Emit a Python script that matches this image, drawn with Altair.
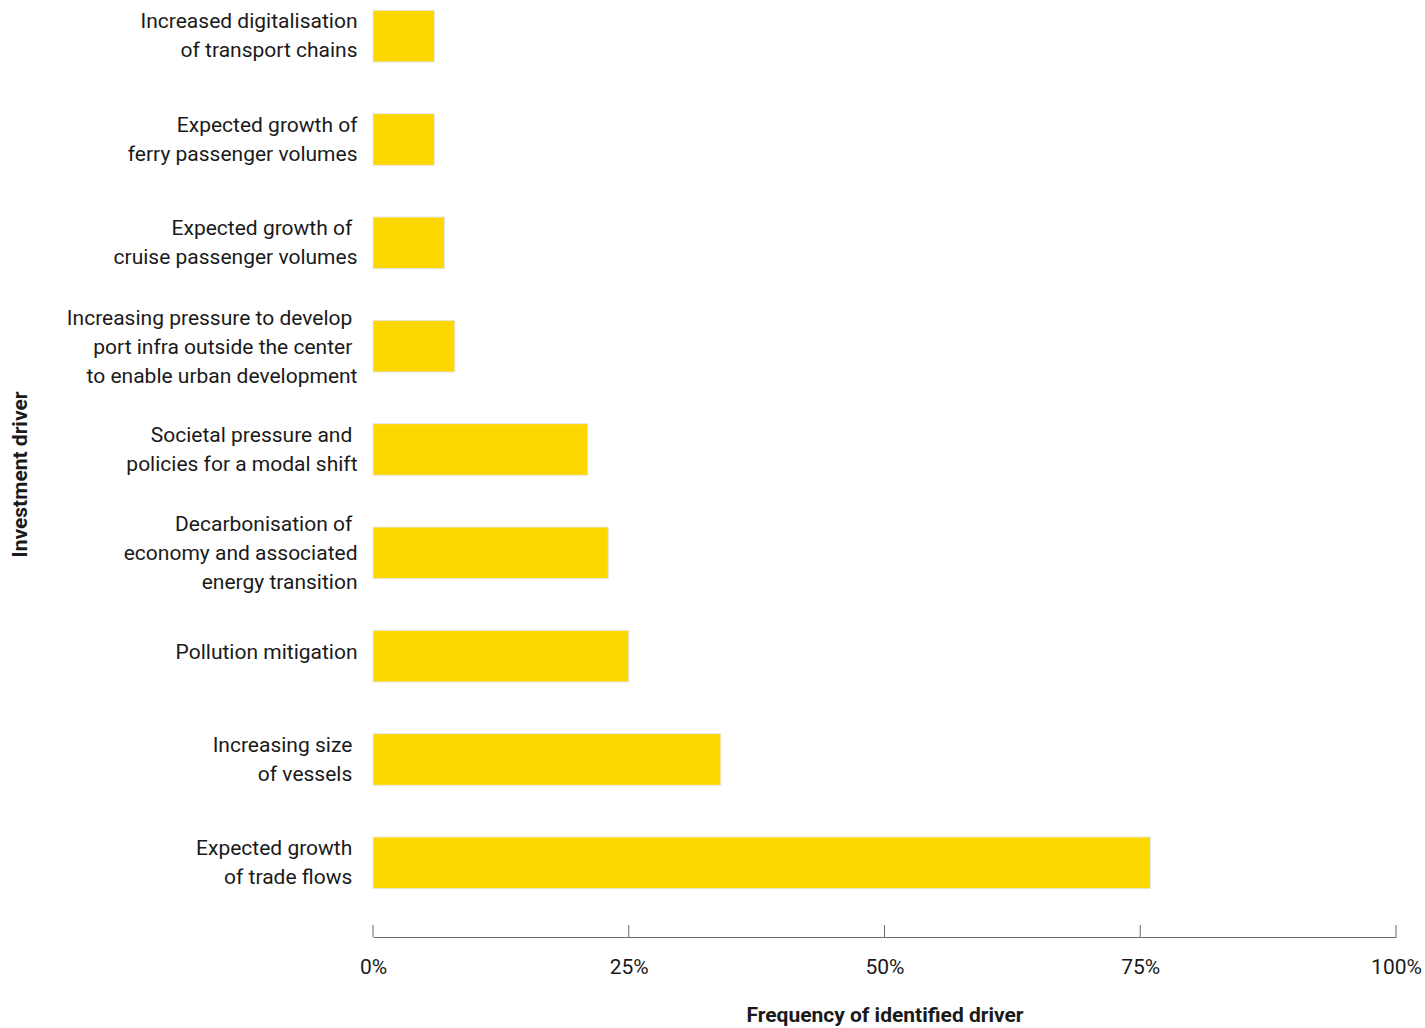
import altair as alt
import pandas as pd

SP = "\u00a0\u200b"  # trailing visible space kept by the renderer
labels = [
    "Increased digitalisation\nof transport chains",
    "Expected growth of\nferry passenger volumes",
    "Expected growth of" + SP + "\ncruise passenger volumes",
    "Increasing pressure to develop" + SP + "\nport infra outside the center" + SP + "\nto enable urban development",
    "Societal pressure and" + SP + "\npolicies for a modal shift",
    "Decarbonisation of" + SP + "\neconomy and associated\nenergy transition",
    "Pollution mitigation",
    "Increasing size" + SP + "\nof vessels" + SP,
    "Expected growth" + SP + "\nof trade flows" + SP,
]
values = [6, 6, 7, 8, 21, 23, 25, 34, 76]
tick_values = [0, 25, 50, 75, 100]

df = pd.DataFrame({"driver": labels, "value": values})
ticks = pd.DataFrame({"t": tick_values})

FONT = "Roboto"
FS = 21
LH = 29

label_offset = {
    "condition": [
        {"test": "length(split(datum.label, '\\n')) == 3", "value": -27.5},
        {"test": "length(split(datum.label, '\\n')) == 2", "value": -14},
    ],
    "value": -3,
}

bars = alt.Chart(df).mark_bar(color="#FDD800", stroke="#e6e6e6", strokeWidth=1).encode(
    x=alt.X("value:Q",
            scale=alt.Scale(domain=[0, 100], nice=False),
            axis=alt.Axis(values=tick_values, labelExpr="datum.value + '%'",
                          ticks=False, grid=False, offset=38,
                          domainColor="#6b6b6b", domainWidth=1,
                          labelFont=FONT, labelFontSize=FS, labelColor="#1a1a1a",
                          labelPadding=19, labelFlush=False,
                          title="Frequency of identified driver",
                          titleFont=FONT, titleFontSize=FS, titleFontWeight="bold",
                          titleColor="#1a1a1a", titlePadding=27)),
    y=alt.Y("driver:N", sort=None,
            scale=alt.Scale(paddingInner=0.5, paddingOuter=0.1),
            axis=alt.Axis(ticks=False, domain=False, grid=False,
                          labelExpr="split(datum.label, '\\n')",
                          labelFont=FONT, labelFontSize=FS, labelColor="#1a1a1a",
                          labelLineHeight=LH, labelPadding=16, labelLimit=400,
                          labelOffset=label_offset,
                          title="Investment driver",
                          titleFont=FONT, titleFontSize=FS, titleFontWeight="bold",
                          titleColor="#1a1a1a", titleAngle=270,
                          titleX=-353, titleY=474,
                          titleAlign="center", titleBaseline="middle")),
)

tick_rules = alt.Chart(ticks).mark_rule(color="#6b6b6b", strokeWidth=1, clip=False).encode(
    x=alt.X("t:Q"),
    y=alt.value(925),
    y2=alt.value(937),
)

chart = alt.layer(bars, tick_rules).properties(
    width=1023, height=899,
    background="white",
    autosize=alt.AutoSizeParams(type="none"),
    padding={"left": 373, "top": 0, "right": 29, "bottom": 129},
).configure_view(stroke="transparent", strokeWidth=0)

chart.save("out.html", embed_options={"renderer": "svg", "actions": False})
